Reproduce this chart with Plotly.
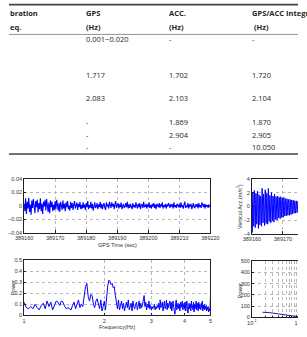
import plotly.graph_objects as go

W, H = 307, 337

# ---------------- table data ----------------
col_headers_1 = ["bration", "GPS", "ACC.", "GPS/ACC Integration"]
col_headers_2 = ["eq.", "(Hz)", "(Hz)", " (Hz)"]
gps_freq = ["0.001~0.020", "1.717", "2.083", "-", "-", "-"]
acc_freq = ["-", "1.702", "2.103", "1.869", "2.904", "-"]
int_freq = ["-", "1.720", "2.104", "1.870", "2.905", "10.050"]

# ---------------- chart data ----------------
# GPS vertical displacement (mm), sampled every 0.25 s from 389160 s
gps_t0, gps_dt = 389160.0, 0.25
gps_disp_mm = [
    3, -8, 11, -12, 6, -4, 12, -9, 2, -13, 8, -3, 10, -6, -11, 7, -2, 9, -10, 4,
    -5, 11, -8, 3, -12, 6, -1, 9, -7, 10, -4, -9, 5, -11, 8, -2, 6, -8, 2, -6,
    7, -5, 9, -3, -7, 4, -9, 6, 1, -6, 8, -4, 3, -8, 5, -2, 7, -5, 0, -7,
    6, -3, 4, -6, 2, 7, -4, -1, 5, -6, 3, -2, 6, -5, 1, -4, 5, -3, 2, -6,
    4, -2, 7, -5, 1, -3, 6, -4, 3, -7, 2, 5, -3, -1, 4, -5, 2, -2, 6, -4,
    3, -5, 1, 4, -3, -6, 5, -1, 2, -4, 6, -2, -3, 5, -1, 3, -5, 2, 7, -3,
    0, 4, -4, 2, -2, 5, -5, 1, 3, -3, -1, 4, -2, 6, -4, 2, -3, 3, -1, -5,
    4, -2, 1, -3, 5, -1, -4, 3, -2, 4, -5, 1, 2, -3, 6, -2, -1, 3, -4, 2,
    -2, 5, -3, 1, -4, 3, -1, 4, -3, 2, -5, 3, 0, -2, 4, -3, 2, -1, 5, -4,
    1, -2, 3, -4, 2, -1, 4, -2, -3, 3, -1, 2, -4, 5, -2, 1, -3, 3, -1, -2,
    3, -3, 5, -2, 1, -4, 2, 6, -3, 0, -2, 4, -4, 2, -1, 3, -5, 1, 4, -2,
    -3, 2, -1, 3, -4, 4, -2, 1, -3, 5, -1, -2, 3, -4, 2, -1, 1, -3, 2, -2,
]
gps_time = [gps_t0 + gps_dt * i for i in range(len(gps_disp_mm))]
gps_disp = [v / 1000.0 for v in gps_disp_mm]

# GPS power spectrum, 1..5 Hz every 0.02 Hz
spec_f0, spec_df = 1.0, 0.02
gps_power = [
    0.12, 0.07, 0.06, 0.08, 0.06, 0.10, 0.07, 0.05, 0.09, 0.11,
    0.06, 0.13, 0.08, 0.12, 0.05, 0.10, 0.13, 0.12, 0.09, 0.13,
    0.12, 0.08, 0.06, 0.07, 0.06, 0.05, 0.09, 0.12, 0.06, 0.11,
    0.14, 0.07, 0.10, 0.08, 0.19, 0.26, 0.29, 0.17, 0.13, 0.19,
    0.18, 0.10, 0.07, 0.13, 0.15, 0.09, 0.06, 0.14, 0.04, 0.08,
    0.13, 0.05, 0.20, 0.27, 0.32, 0.31, 0.28, 0.29, 0.25, 0.26,
    0.18, 0.12, 0.06, 0.14, 0.05, 0.09, 0.13, 0.06, 0.11, 0.04,
    0.10, 0.12, 0.07, 0.14, 0.05, 0.09, 0.11, 0.04, 0.13, 0.08,
    0.06, 0.10, 0.12, 0.05, 0.08, 0.13, 0.06, 0.11, 0.07, 0.09,
    0.14, 0.18, 0.08, 0.12, 0.05, 0.10, 0.07, 0.13, 0.06, 0.09,
    0.05, 0.08, 0.06, 0.07, 0.10, 0.05, 0.08, 0.06, 0.09, 0.07,
    0.11, 0.05, 0.14, 0.07, 0.09, 0.12, 0.04, 0.10, 0.13, 0.06,
    0.08, 0.14, 0.05, 0.11, 0.07, 0.10, 0.13, 0.06, 0.12, 0.04,
    0.09, 0.13, 0.07, 0.03, 0.01, 0.10, 0.14, 0.05, 0.08, 0.11,
    0.06, 0.10, 0.04, 0.12, 0.07, 0.09, 0.13, 0.05, 0.08, 0.11,
    0.06, 0.12, 0.04, 0.09, 0.13, 0.05, 0.02, 0.08, 0.11, 0.06,
    0.10, 0.04, 0.13, 0.07, 0.09, 0.05, 0.12, 0.03, 0.10, 0.06,
    0.09, 0.13, 0.05, 0.11, 0.07, 0.04, 0.12, 0.06, 0.10, 0.08,
    0.05, 0.11, 0.07, 0.13, 0.04, 0.09, 0.06, 0.10, 0.05, 0.08,
    0.06, 0.09, 0.04, 0.07, 0.05, 0.08, 0.03, 0.06, 0.04, 0.05,
    0.17,
]
spec_freq = [spec_f0 + spec_df * i for i in range(len(gps_power))]

# Vertical acceleration (m/s^2), every 0.1 s from 389160 s
acc_t0, acc_dt = 389160.0, 0.1
acc_vals = [
    0.5, -3.8, -1.0, 2.0, 1.2, -2.5, -2.9, 0.8, 2.3, 0.4,
    -2.1, -3.1, 0.3, 1.9, 1.1, -1.6, -2.6, 0.5, 2.2, 0.9,
    -1.8, -3.2, -0.4, 1.7, 1.4, -1.2, -2.7, -0.2, 1.5, 1.0,
    -1.5, -2.9, 0.1, 2.6, 1.2, -1.1, -2.4, 0.4, 1.8, 0.7,
    -1.7, -2.8, -0.3, 2.4, 1.5, -0.9, -2.5, 0.2, 1.9, 1.1,
    -1.4, -2.6, 0.0, 2.6, 1.0, -1.2, -2.2, 0.6, 1.6, 0.8,
    -1.3, -2.4, -0.2, 2.0, 1.3, -0.8, -2.1, 0.3, 1.5, 0.9,
    -1.1, -2.3, 0.1, 1.8, 1.0, -0.9, -1.9, 0.4, 1.4, 0.6,
    -1.0, -2.0, -0.1, 1.5, 1.1, -0.7, -1.7, 0.2, 1.3, 0.8,
    -0.9, -1.8, 0.2, 1.4, 0.9, -0.8, -1.6, 0.3, 1.2, 0.6,
    -0.8, -1.6, 0.0, 1.3, 0.8, -0.6, -1.4, 0.2, 1.1, 0.7,
    -0.7, -1.4, 0.1, 1.1, 0.7, -0.6, -1.3, 0.3, 1.0, 0.5,
    -0.6, -1.3, -0.1, 1.0, 0.8, -0.5, -1.2, 0.2, 0.9, 0.6,
    -0.6, -1.1, 0.1, 0.9, 0.6, -0.5, -1.0, 0.2, 0.8, 0.5,
    -0.5, -1.0, 0.0, 0.8, 0.6, -0.4, -0.9, 0.1, 0.7, 0.4,
]
acc_time = [acc_t0 + acc_dt * i for i in range(len(acc_vals))]

# Acceleration power spectrum (log frequency)
acc_spec_freq = [0.175, 0.25, 0.4, 0.6, 0.8, 1.0, 1.1]
acc_spec_power = [45, 42, 30, 20, 12, 7, 6]


def px(x):
    return x / W


def py(y):
    return 1 - y / H


BLUE = "#0000ff"
fig = go.Figure()
fig.add_trace(go.Scatter(x=gps_time, y=gps_disp, mode="lines",
                         line=dict(color=BLUE, width=1.1), xaxis="x", yaxis="y"))
fig.add_trace(go.Scatter(x=spec_freq, y=gps_power, mode="lines",
                         line=dict(color=BLUE, width=1), xaxis="x2", yaxis="y2"))
fig.add_trace(go.Scatter(x=acc_time, y=acc_vals, mode="lines",
                         line=dict(color=BLUE, width=1), xaxis="x3", yaxis="y3"))
fig.add_trace(go.Scatter(x=acc_spec_freq, y=acc_spec_power, mode="lines",
                         line=dict(color="#2020a0", width=1), xaxis="x4", yaxis="y4"))

tickfont = dict(family="Liberation Sans, Arial, sans-serif", size=5.5, color="#333")
common = dict(showline=True, linecolor="#222", linewidth=0.8, ticks="inside",
              ticklen=2.5, tickcolor="#222", tickwidth=0.6,
              showgrid=True, gridcolor="#b8b8b8", griddash="dot", gridwidth=0.7,
              zeroline=False, tickfont=tickfont)

fig.update_layout(
    width=W, height=H, margin=dict(l=0, r=0, t=0, b=0),
    paper_bgcolor="white", plot_bgcolor="white", showlegend=False,
    xaxis=dict(domain=[px(16), px(214)], anchor="y", range=[389160, 389220],
               dtick=10, tickformat="d", mirror=True, **common),
    yaxis=dict(domain=[py(234), py(179)], anchor="x", range=[-0.04, 0.04],
               dtick=0.02, mirror=True, **common),
    xaxis2=dict(domain=[px(16), px(214)], anchor="y2", type="log",
                range=[0, 0.69897], tickvals=[1, 2, 3, 4, 5], mirror=True, **common),
    yaxis2=dict(domain=[py(318), py(262)], anchor="x2", range=[0, 0.5],
                dtick=0.1, mirror=True, **common),
    xaxis3=dict(domain=[px(258), 1], anchor="y3", range=[389160, 389174.85],
                tickvals=[389160, 389170], tickformat="d", mirror=True, **common),
    yaxis3=dict(domain=[py(235), py(179)], anchor="x3", range=[-4, 4],
                dtick=2, mirror=False, **common),
    xaxis4=dict(domain=[px(258), 1], anchor="y4", type="log", range=[-1, 0.0426],
                tickvals=[0.1, 1.0], ticktext=["10<sup>-1</sup>", "1"],
                minor=dict(tickmode="array",
                           tickvals=[0.2, 0.3, 0.4, 0.5, 0.6, 0.7, 0.8, 0.9],
                           ticks="inside", ticklen=1.5, tickcolor="#222",
                           showgrid=True, gridcolor="#b8b8b8", griddash="dot",
                           gridwidth=0.7),
                mirror=True, **common),
    yaxis4=dict(domain=[py(320), py(263)], anchor="x4", range=[0, 500],
                dtick=100, mirror=False, **common),
)

# ---------------- table ----------------
tfont = "Open Sans, Lato, sans-serif"
col_x = [0, 81, 169, 257]
anns = []
for cx, txt in zip(col_x, col_headers_1):
    anns.append(dict(x=px(cx), y=py(10), text=f"<b>{txt}</b>"))
for cx, txt in zip(col_x, col_headers_2):
    anns.append(dict(x=px(cx), y=py(24), text=f"<b>{txt}</b>"))
row_y = [37, 73, 97, 121, 134, 147]
for ry, a, b, c in zip(row_y, gps_freq, acc_freq, int_freq):
    anns.append(dict(x=px(col_x[1]), y=py(ry), text=a))
    anns.append(dict(x=px(col_x[2]), y=py(ry), text=b))
    anns.append(dict(x=px(col_x[3]), y=py(ry), text=c))
for a in anns:
    a.update(xref="paper", yref="paper", xanchor="left", yanchor="middle",
             showarrow=False, font=dict(family=tfont, size=7.5, color="#262626"),
             borderpad=0)
    fig.add_annotation(**a)

afont = dict(family="Liberation Sans, Arial, sans-serif", size=5.5, color="#333")
axis_titles = [
    dict(x=px(115), y=py(246.5), text="GPS Time (sec)", textangle=0),
    dict(x=px(115), y=py(330), text="Frequency(Hz)", textangle=0),
    dict(x=px(4), y=py(290), text="Power", textangle=-90),
    dict(x=px(245), y=py(207), text="Vertical Acc.(m/s<sup>2</sup>)", textangle=-90),
    dict(x=px(245), y=py(293), text="Power", textangle=-90),
]
for a in axis_titles:
    fig.add_annotation(xref="paper", yref="paper", xanchor="center", yanchor="middle",
                       showarrow=False, font=afont, **a)

line_specs = [(1.7, 1.6, "#444"), (32, 0.8, "#777"), (153.7, 1.6, "#444")]
for yy, lw, col in line_specs:
    fig.add_shape(type="line", xref="paper", yref="paper", x0=0, x1=1,
                  y0=py(yy), y1=py(yy), line=dict(color=col, width=lw))

fig.write_html("out.html")
